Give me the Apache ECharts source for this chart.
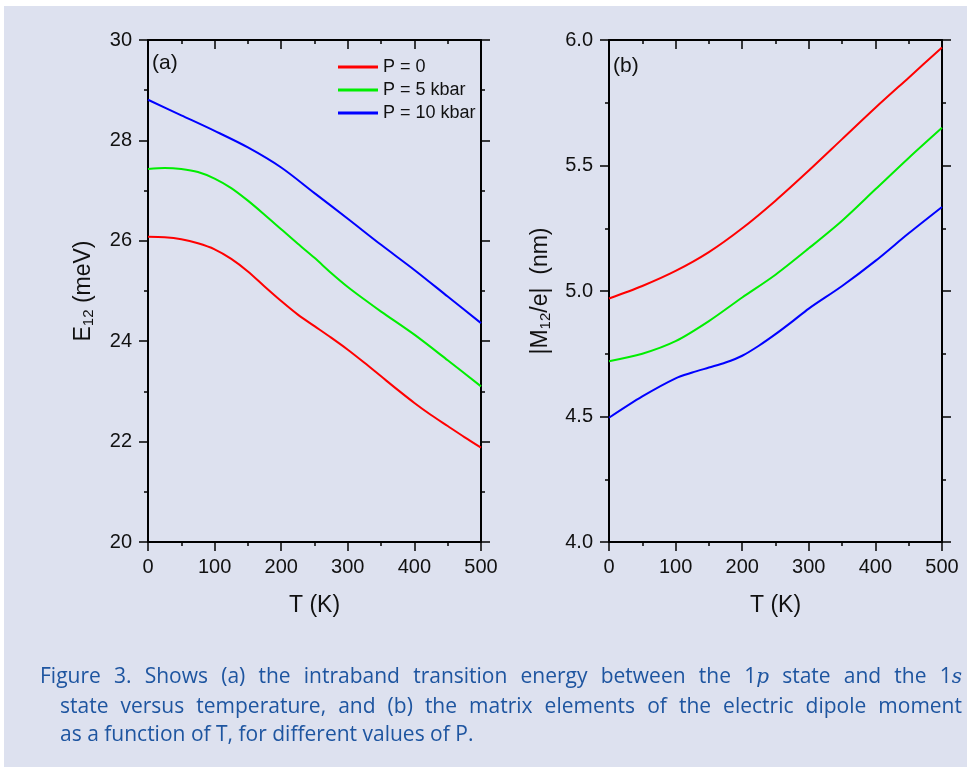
<!DOCTYPE html>
<html>
<head>
<meta charset="utf-8">
<script src="https://cdn.jsdelivr.net/npm/echarts@6/dist/echarts.min.js"></script>
<style>
  body { margin: 0; background: #fff; }
  #wrap { position: absolute; left: 4px; top: 6px; width: 963px; height: 761px; background: #dde1ef; }
  #main { position: absolute; left: -4px; top: -6px; width: 967px; height: 767px; }
  #cap { position: absolute; left: 36px; top: 655px; width: 922px; font-family: "Open Sans", "Noto Sans", sans-serif;
         font-size: 21px; line-height: 28.5px; color: #1e55a0; }
  #cap div { text-align: justify; text-align-last: justify; white-space: nowrap; }
  #cap div.ind { padding-left: 20px; }
  #cap div.last { text-align-last: left; }
  #cap i { font-family: "DejaVu Serif", serif; font-size: 20px; }
</style>
</head>
<body>
<div id="wrap">
  <div id="main"></div>
  <div id="cap">
    <div>Figure 3. Shows (a) the intraband transition energy between the 1<i>p</i> state and the 1<i>s</i></div>
    <div class="ind">state versus temperature, and (b) the matrix elements of the electric dipole moment</div>
    <div class="ind last">as a function of T, for different values of P.</div>
  </div>
</div>
<script>
// temperatures (K)
let T_a0 = [0, 25, 50, 75, 100, 125, 150, 175, 200, 225, 250, 275, 300, 325, 350, 375, 400, 425, 450, 475, 500];
let E_p0 = [26.08, 26.07, 26.03, 25.95, 25.83, 25.64, 25.39, 25.09, 24.80, 24.53, 24.30, 24.07, 23.83, 23.57, 23.30, 23.03, 22.77, 22.53, 22.31, 22.09, 21.88];
let T_a5 = [0, 25, 50, 75, 100, 125, 150, 175, 200, 225, 250, 275, 300, 325, 350, 400, 450, 500];
let E_p5 = [27.43, 27.45, 27.43, 27.37, 27.24, 27.05, 26.80, 26.52, 26.23, 25.94, 25.66, 25.36, 25.08, 24.83, 24.59, 24.13, 23.62, 23.10];
let T_a10 = [0, 50, 100, 150, 200, 250, 300, 350, 400, 450, 500];
let E_p10 = [28.81, 28.50, 28.19, 27.86, 27.46, 26.95, 26.44, 25.92, 25.42, 24.89, 24.36];

let T_b = [0, 50, 100, 150, 200, 250, 300, 350, 400, 450, 500];
let M_p0 = [4.97, 5.02, 5.08, 5.155, 5.25, 5.36, 5.48, 5.605, 5.73, 5.85, 5.97];
let M_p5 = [4.72, 4.75, 4.80, 4.88, 4.974, 5.065, 5.17, 5.28, 5.405, 5.53, 5.65];
let T_b10 = [0, 50, 100, 125, 150, 175, 200, 225, 250, 275, 300, 350, 400, 450, 500];
let M_p10 = [4.495, 4.58, 4.652, 4.675, 4.695, 4.715, 4.742, 4.782, 4.828, 4.878, 4.93, 5.02, 5.12, 5.23, 5.335];

let names = ['P = 0', 'P = 5 kbar', 'P = 10 kbar'];
let colors = ['#ff0000', '#00ee00', '#0000ff'];

function pairs(xs, ys) {
  return xs.map(function (x, i) { return [x, ys[i]]; });
}

let font = 'Arial, "Liberation Sans", sans-serif';
let axisLine = { show: true, onZero: false, lineStyle: { color: '#000', width: 2 } };

function xAx(grid, top) {
  return {
    type: 'value', gridIndex: grid, position: top ? 'top' : 'bottom',
    min: 0, max: 500, interval: 100,
    axisLine: axisLine,
    axisTick: { show: true, inside: top, length: 9, lineStyle: { color: '#000', width: 1.5 } },
    minorTick: { show: true, splitNumber: 2, length: 4, lineStyle: { color: '#000', width: 1.5 } },
    splitLine: { show: false },
    axisLabel: { show: !top, fontSize: 20, color: '#111', fontFamily: font, margin: 15 },
    name: top ? '' : 'T (K)', nameLocation: 'middle', nameGap: 52,
    nameTextStyle: { fontSize: 23, color: '#111', fontFamily: font }
  };
}

function yAx(grid, right, min, max, step, fmt, name, gap) {
  return {
    type: 'value', gridIndex: grid, position: right ? 'right' : 'left',
    min: min, max: max, interval: step,
    axisLine: axisLine,
    axisTick: { show: true, inside: false, length: 9, lineStyle: { color: '#000', width: 1.5 } },
    minorTick: { show: true, splitNumber: 2, length: 4, lineStyle: { color: '#000', width: 1.5 } },
    splitLine: { show: false },
    axisLabel: { show: !right, fontSize: 20, color: '#111', fontFamily: font, margin: 16, formatter: fmt },
    name: right ? '' : name, nameLocation: 'middle', nameGap: gap, nameRotate: 90,
    nameTextStyle: {
      fontSize: 23, color: '#111', fontFamily: font,
      rich: {
        n: { fontSize: 23, color: '#111', fontFamily: font },
        s: { fontSize: 15, color: '#111', fontFamily: font, padding: [10, 0, 0, 0] }
      }
    }
  };
}

function line(name, color, data, ax) {
  return {
    name: name, type: 'line', xAxisIndex: ax, yAxisIndex: ax,
    data: data, smooth: 0.3, showSymbol: false, symbol: 'none',
    lineStyle: { color: color, width: 2 }, itemStyle: { color: color }
  };
}

let option = {
  animation: false,
  backgroundColor: 'transparent',
  grid: [
    { left: 148, top: 40, width: 333, height: 502 },
    { left: 609, top: 40, width: 333, height: 502 }
  ],
  legend: {
    data: names, orient: 'vertical', left: 333, top: 53,
    itemWidth: 40, itemHeight: 3, itemGap: 5, icon: 'rect',
    textStyle: { fontSize: 18, color: '#111', fontFamily: font }
  },
  xAxis: [xAx(0, false), xAx(0, true), xAx(1, false), xAx(1, true)],
  yAxis: [
    yAx(0, false, 20, 30, 2, null, '{n|E}{s|12}{n| (meV)}', 52),
    yAx(0, true, 20, 30, 2, null, '', 0),
    yAx(1, false, 4, 6, 0.5, function (v) { return v.toFixed(1); }, '{n||M}{s|12}{n|/e|  (nm)}', 56),
    yAx(1, true, 4, 6, 0.5, null, '', 0)
  ],
  graphic: [
    { type: 'text', left: 152, top: 53, style: { text: '(a)', fontSize: 21, fill: '#111', fontFamily: font } },
    { type: 'text', left: 613, top: 56, style: { text: '(b)', fontSize: 21, fill: '#111', fontFamily: font } }
  ],
  series: [
    line(names[0], colors[0], pairs(T_a0, E_p0), 0),
    line(names[1], colors[1], pairs(T_a5, E_p5), 0),
    line(names[2], colors[2], pairs(T_a10, E_p10), 0),
    line(names[0], colors[0], pairs(T_b, M_p0), 2),
    line(names[1], colors[1], pairs(T_b, M_p5), 2),
    line(names[2], colors[2], pairs(T_b10, M_p10), 2)
  ]
};

let myChart = echarts.init(document.getElementById('main'));
myChart.setOption(option);
</script>
</body>
</html>
